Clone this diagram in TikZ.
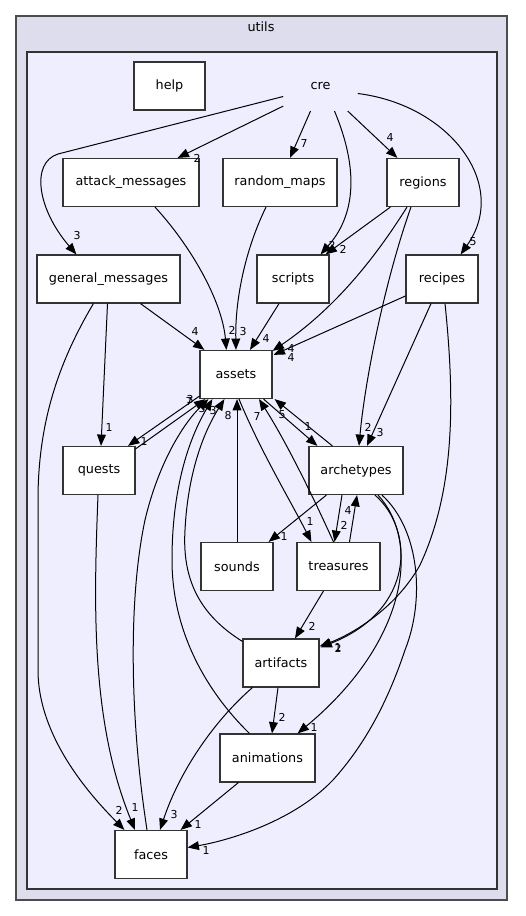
\documentclass[tikz,border=0pt]{standalone}
\usepackage{fontspec}
\setmainfont{DejaVu Sans}
\usetikzlibrary{arrows.meta,calc}

\begin{document}
\begin{tikzpicture}[x=0.75pt, y=-0.75pt,
    dirbox/.style={draw=black!80, line width=0.9pt, fill=white, minimum height=36pt, inner sep=0pt, font=\fontsize{9.6pt}{11pt}\selectfont},
    dep/.style={-{Triangle[length=8.5pt,width=6.6pt]}, line width=0.75pt},
    elabel/.style={inner sep=0pt, font=\fontsize{8.2pt}{9pt}\selectfont}]
  \useasboundingbox (0,0) rectangle (525,916);
  \draw[draw=black!70, line width=0.9pt, fill={rgb,255:red,221;green,221;blue,238}] (16,16) rectangle (507,900);
  \node[font=\fontsize{9.6pt}{11pt}\selectfont] (utils) at (261,27) {utils};
  \draw[draw=black!80, line width=0.9pt, fill={rgb,255:red,238;green,238;blue,255}] (27,52) rectangle (497,889);

  \node[dirbox, minimum width=53.25pt] (help) at (169.5,86) {help};
  \node[dirbox, draw=none, fill=none, minimum width=55pt] (cre) at (320.5,86.5) {cre};
  \node[dirbox, minimum width=102pt] (attackmsg) at (131,182.5) {attack\_messages};
  \node[dirbox, minimum width=85.5pt] (randommaps) at (280,182.5) {random\_maps};
  \node[dirbox, minimum width=54pt] (regions) at (423,182.5) {regions};
  \node[dirbox, minimum width=107.25pt] (generalmsg) at (108.5,279) {general\_messages};
  \node[dirbox, minimum width=54pt] (scripts) at (293,279) {scripts};
  \node[dirbox, minimum width=54pt] (recipes) at (442,279) {recipes};
  \node[dirbox, minimum width=54pt] (assets) at (236,374.5) {assets};
  \node[dirbox, minimum width=54pt] (quests) at (99,470.5) {quests};
  \node[dirbox, minimum width=70.5pt] (archetypes) at (356,470.5) {archetypes};
  \node[dirbox, minimum width=54pt] (sounds) at (237,566.5) {sounds};
  \node[dirbox, minimum width=62.25pt] (treasures) at (338.5,566.5) {treasures};
  \node[dirbox, minimum width=57pt] (artifacts) at (281,663) {artifacts};
  \node[dirbox, minimum width=71.25pt] (animations) at (267.5,758) {animations};
  \node[dirbox, minimum width=54pt] (faces) at (151,854.5) {faces};

  \draw[dep] ($(cre.west)+(0,10)$) -- (58,154) .. controls (30,163) and (38,210) .. ($(generalmsg.north west)+(40,0)$) node[elabel] (l1) at (77,236) {3};
  \draw[dep] ($(cre.south west)+(0,-5)$) -- ($(attackmsg.north east)+(-22,0)$) node[elabel] (l2) at (197,158) {2};
  \draw[dep] ($(cre.south)+(-10,0)$) -- ($(randommaps.north)+(10,0)$) node[elabel] (l3) at (304,144) {7};
  \draw[dep] ($(cre.south)+(14,0)$) .. controls (355,160) and (360,210) .. ($(scripts.north east)+(-9,0)$) node[elabel] (l4) at (332,245) {2};
  \draw[dep] ($(cre.south east)+(-10,0)$) -- ($(regions.north west)+(11,0)$) node[elabel] (l5) at (390,138) {4};
  \draw[dep] ($(cre.east)+(0,7)$) .. controls (450,105) and (510,185) .. ($(recipes.north east)+(-18,0)$) node[elabel] (l6) at (473,242) {5};

  \draw[dep] ($(attackmsg.south)+(24,0)$) .. controls (190,245) and (222,300) .. ($(assets.north west)+(27,0)$) node[elabel] (l7) at (232,330) {2};
  \draw[dep] ($(randommaps.south)+(-14,0)$) .. controls (245,250) and (235,300) .. (assets.north) node[elabel] (l8) at (243,332) {3};
  \draw[dep] ($(regions.south west)+(4,0)$) -- ($(scripts.north east)+(-4,0)$) node[elabel] (l9) at (343,249) {2};
  \draw[dep] ($(regions.south)+(-16,0)$) .. controls (380,250) and (340,305) .. ($(assets.north east)+(0,1)$) node[elabel] (l10) at (291,349) {4};
  \draw[dep] ($(regions.south)+(-12,0)$) .. controls (385,280) and (365,380) .. ($(archetypes.north)+(3,0)$) node[elabel] (l11) at (368,427) {2};

  \draw[dep] ($(generalmsg.south)+(32,0)$) -- ($(assets.north west)+(5,0)$) node[elabel] (l12) at (195,332) {4};
  \draw[dep] ($(generalmsg.south)+(-1,0)$) -- ($(quests.north)+(2,0)$) node[elabel] (l13) at (109,428) {1};
  \draw[dep] ($(generalmsg.south west)+(57,0)$) .. controls (60,360) and (38,420) .. (38,500) -- (38,670) .. controls (38,740) and (95,800) .. ($(faces.north west)+(10,0)$) node[elabel] (l14) at (119,810) {2};
  \draw[dep] ($(scripts.south)+(-14,0)$) -- ($(assets.north)+(14,0)$) node[elabel] (l15) at (266,339) {4};
  \draw[dep] ($(recipes.west)+(0,17)$) -- ($(assets.north east)+(1,5)$) node[elabel] (l16) at (291,358) {4};
  \draw[dep] ($(recipes.south)+(-11,0)$) -- ($(archetypes.north)+(11,0)$) node[elabel] (l17) at (380,433) {3};
  \draw[dep] ($(recipes.south)+(3,0)$) .. controls (455,400) and (455,490) .. (420,565) .. controls (395,610) and (350,635) .. ($(artifacts.north east)+(0,8)$) node[elabel] (l18) at (338,648) {1};

  \draw[dep] ($(assets.south west)+(0,-3)$) -- ($(quests.north)+(29,0)$) node[elabel] (l19) at (144,442) {1};
  \draw[dep] ($(quests.north east)+(0,3)$) -- ($(assets.south west)+(6,0)$) node[elabel] (l20) at (189,402) {7};
  \draw[dep] ($(faces.north)+(-4,0)$) .. controls (130,720) and (128,600) .. (145,520) .. controls (158,465) and (182,425) .. ($(assets.south west)+(9,0)$) node[elabel] (l21) at (190,400) {3};
  \draw[dep] ($(animations.north west)+(30,0)$) .. controls (205,690) and (172,630) .. (172,560) .. controls (172,490) and (188,440) .. ($(assets.south west)+(13,0)$) node[elabel] (l22) at (202,409) {3};
  \draw[dep] ($(artifacts.north west)+(0,3)$) .. controls (200,615) and (182,580) .. (185,530) .. controls (188,470) and (205,430) .. ($(assets.south west)+(25,0)$) node[elabel] (l23) at (213,411) {3};
  \draw[dep] (sounds.north) -- (sounds.north |- assets.south) node[elabel] (l24) at (228,416) {8};
  \draw[dep] ($(assets.south)+(3,0)$) .. controls (260,450) and (290,500) .. ($(treasures.north west)+(15,0)$) node[elabel] (l25) at (310,522) {1};
  \draw[dep] ($(treasures.north)+(-5,0)$) .. controls (310,490) and (285,440) .. ($(assets.south)+(23,0)$) node[elabel] (l26) at (257,417) {7};
  \draw[dep] ($(archetypes.north west)+(24,0)$) -- ($(assets.south east)+(2,0)$) node[elabel] (l27) at (282,415) {5};
  \draw[dep] ($(assets.south east)+(-9,0)$) -- ($(archetypes.north west)+(9,0)$) node[elabel] (l28) at (308,427) {1};

  \draw[dep] ($(archetypes.south west)+(18,0)$) -- ($(sounds.north east)+(-5,0)$) node[elabel] (l29) at (284,537) {1};
  \draw[dep] ($(archetypes.south)+(-14,0)$) -- ($(treasures.north)+(-4,0)$) node[elabel] (l30) at (344,525) {2};
  \draw[dep] ($(treasures.north)+(11,0)$) -- ($(archetypes.south)+(1,0)$) node[elabel] (l31) at (348,511) {4};
  \draw[dep] ($(archetypes.south)+(19,0)$) .. controls (415,530) and (415,610) .. ($(artifacts.north east)+(1,9)$) node[elabel] (l32) at (338,648) {2};
  \draw[dep] ($(archetypes.south)+(22,0)$) .. controls (420,540) and (410,640) .. ($(animations.north east)+(-18,0)$) node[elabel] (l33) at (314,728) {1};
  \draw[dep] ($(archetypes.south)+(26,0)$) .. controls (420,530) and (425,600) .. (405,650) .. controls (385,710) and (360,750) .. (333,780) .. controls (290,825) and (220,842) .. ($(faces.east)+(0,-7)$) node[elabel] (l34) at (206,851) {1};
  \draw[dep] ($(treasures.south west)+(27,0)$) -- ($(artifacts.north)+(14,0)$) node[elabel] (l35) at (312,626) {2};

  \draw[dep] ($(artifacts.south)+(-3,0)$) -- ($(animations.north)+(4.5,0)$) node[elabel] (l36) at (282,717) {2};
  \draw[dep] ($(artifacts.south west)+(10,0)$) .. controls (215,720) and (180,770) .. ($(faces.north)+(9,0)$) node[elabel] (l37) at (174,815) {3};
  \draw[dep] ($(animations.south west)+(19,0)$) -- ($(faces.north east)+(-7,0)$) node[elabel] (l38) at (198,825) {1};
  \draw[dep] ($(quests.south)+(-1,0)$) .. controls (94,600) and (90,720) .. ($(faces.north)+(-16,0)$) node[elabel] (l39) at (135,808) {1};
\end{tikzpicture}
\end{document}
